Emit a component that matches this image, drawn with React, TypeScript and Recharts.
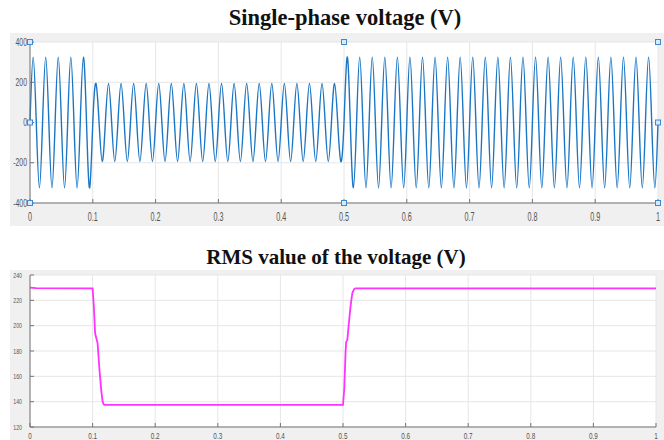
import { LineChart, Line, XAxis, YAxis, CartesianGrid, ReferenceDot } from "recharts";

// Peak voltage of every 20 ms cycle (50 Hz)
const cyclePeaks = [
  325, 325, 325, 325, 325, 194, 194, 194, 194, 194,
  194, 194, 194, 194, 194, 194, 194, 194, 194, 194,
  194, 194, 194, 194, 194, 325, 325, 325, 325, 325,
  325, 325, 325, 325, 325, 325, 325, 325, 325, 325,
  325, 325, 325, 325, 325, 325, 325, 325, 325, 325,
];

// RMS trace (time in s, value in V)
const rmsTime = [0, 0.01, 0.1, 0.102, 0.104, 0.106, 0.108, 0.111, 0.114, 0.116, 0.118, 0.12, 0.5, 0.502, 0.504, 0.505, 0.507, 0.509, 0.512, 0.515, 0.518, 0.52, 1];
const rmsValue = [230, 229.6, 229.5, 215, 194, 190, 186, 165, 148, 140, 137.6, 137.4, 137.4, 150, 178, 187, 189, 200, 215, 226, 229, 229.5, 229.5];

const timeTicks = [0, 0.1, 0.2, 0.3, 0.4, 0.5, 0.6, 0.7, 0.8, 0.9, 1];
const voltTicks = [-400, -200, 0, 200, 400];
const rmsTicks = [120, 140, 160, 180, 200, 220, 240];

// scope selection handles on the top axes
const handleX = [0, 0.5, 1, 0, 1, 0, 0.5, 1];
const handleY = [400, 400, 400, 0, 0, -400, -400, -400];

// one point per quarter cycle: zero, +peak, zero, -peak
const waveData: { t: number; v: number }[] = [];
cyclePeaks.forEach((a, i) => {
  const t0 = i * 0.02;
  waveData.push({ t: t0, v: 0 }, { t: t0 + 0.005, v: a }, { t: t0 + 0.01, v: 0 }, { t: t0 + 0.015, v: -a });
});
waveData.push({ t: 1, v: 0 });

const rmsData = rmsTime.map((t, i) => ({ t, v: rmsValue[i] }));

const BORDER = "#757575";
const GRID = "#e6e6e6";
const LABEL = "#555";

function makeTick(anchor: "end" | "middle", fontSize: number, sx: number, dx: number, dy: number) {
  return (props: any) => {
    const { x, y, payload } = props;
    return (
      <text
        transform={`translate(${x + dx},${y + dy}) scale(${sx},1)`}
        textAnchor={anchor}
        fontSize={fontSize}
        fontFamily="'Liberation Sans', Arial, sans-serif"
        fill={LABEL}
      >
        {String(payload.value)}
      </text>
    );
  };
}

const NoTick = () => <g />;

function Handle(props: any) {
  const { cx, cy } = props;
  return <rect x={cx - 2.5} y={cy - 2.5} width={5} height={5} fill="#dbe9f7" stroke="#3a8ad4" strokeWidth={1} />;
}

const titleStyle: React.CSSProperties = {
  position: "absolute",
  width: 664,
  textAlign: "center",
  fontFamily: "'Liberation Serif', 'Times New Roman', serif",
  fontWeight: "bold",
  fontSize: 21,
  color: "#111",
  lineHeight: "24px",
};

export default function App() {
  return (
    <div style={{ position: "absolute", left: 0, top: 0, width: 664, height: 440, background: "#fff", overflow: "hidden" }}>
      <div style={{ position: "absolute", left: 10, top: 33, width: 654, height: 193, background: "#f0f0f0" }} />
      <div style={{ position: "absolute", left: 10, top: 270, width: 654, height: 170, background: "#f0f0f0" }} />

      <div style={{ ...titleStyle, top: 6, left: 13, fontSize: 22.5 }}>Single-phase voltage (V)</div>
      <div style={{ ...titleStyle, top: 245, left: 4 }}>RMS value of the voltage (V)</div>

      <div style={{ position: "absolute", left: 0, top: 0 }}>
        <LineChart width={664} height={230} data={waveData} margin={{ top: 42, right: 6, bottom: 0, left: 0 }}>
          <CartesianGrid stroke={GRID} fill="#fff" />
          <XAxis dataKey="t" type="number" domain={[0, 1]} ticks={timeTicks} height={27} stroke={BORDER} tickSize={-4} tickMargin={0} tick={makeTick("middle", 12, 0.6, 0, 22)} interval={0} />
          <XAxis xAxisId="top" orientation="top" dataKey="t" type="number" domain={[0, 1]} ticks={timeTicks} height={0} stroke={BORDER} tickSize={-4} tick={NoTick} interval={0} />
          <YAxis domain={[-400, 400]} ticks={voltTicks} width={30} stroke={BORDER} tickSize={-4} tickMargin={0} tick={makeTick("end", 10.5, 0.66, -7, 3.6)} interval={0} />
          <YAxis yAxisId="right" orientation="right" domain={[-400, 400]} ticks={voltTicks} width={0} stroke={BORDER} tickSize={-4} tick={NoTick} interval={0} />
          <Line dataKey="v" type="natural" stroke="#1a76c4" strokeWidth={1.4} dot={false} isAnimationActive={false} />
          {handleX.map((hx, i) => (
            <ReferenceDot key={i} x={hx} y={handleY[i]} ifOverflow="visible" shape={Handle} />
          ))}
        </LineChart>
      </div>

      <div style={{ position: "absolute", left: 0, top: 240 }}>
        <LineChart width={664} height={200} data={rmsData} margin={{ top: 35, right: 8, bottom: 0, left: 0 }}>
          <CartesianGrid stroke={GRID} fill="#fff" />
          <XAxis dataKey="t" type="number" domain={[0, 1]} ticks={timeTicks} height={13} stroke={BORDER} tickSize={-4} tickMargin={0} tick={makeTick("middle", 8.5, 0.75, 0, 16)} interval={0} />
          <XAxis xAxisId="top" orientation="top" dataKey="t" type="number" domain={[0, 1]} ticks={timeTicks} height={0} stroke={BORDER} tickSize={-4} tick={NoTick} interval={0} />
          <YAxis domain={[120, 240]} ticks={rmsTicks} width={30} stroke={BORDER} tickSize={-4} tickMargin={0} tick={makeTick("end", 7.5, 0.7, -12, 2.6)} interval={0} />
          <YAxis yAxisId="right" orientation="right" domain={[120, 240]} ticks={rmsTicks} width={0} stroke={BORDER} tickSize={-4} tick={NoTick} interval={0} />
          <Line dataKey="v" type="linear" stroke="#ff33ff" strokeWidth={1.8} dot={false} isAnimationActive={false} />
        </LineChart>
      </div>
    </div>
  );
}
